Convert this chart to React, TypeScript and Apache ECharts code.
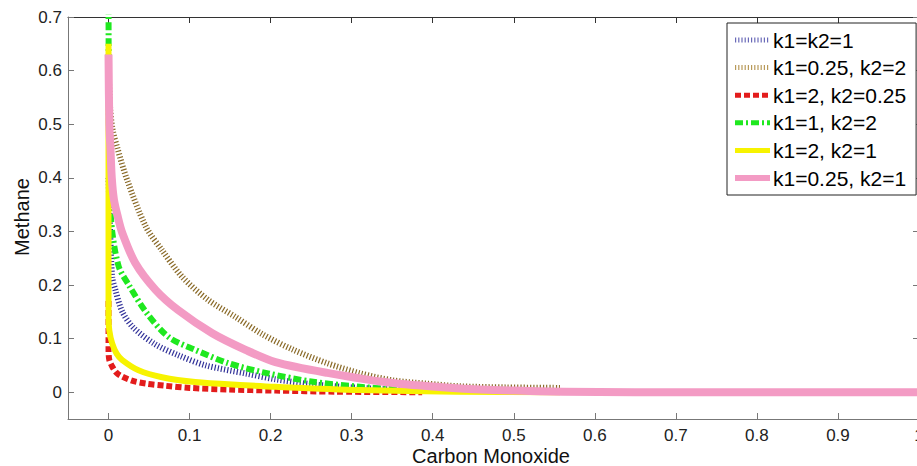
import React, { useEffect, useRef } from "react";
import * as echarts from "echarts";

const seriesNames = [
  "k1=k2=1",
  "k1=0.25, k2=2",
  "k1=2, k2=0.25",
  "k1=1, k2=2",
  "k1=2, k2=1",
  "k1=0.25, k2=1",
];

const blueX = [0, 0.002, 0.0045, 0.0086, 0.017, 0.031, 0.058, 0.086, 0.12, 0.169, 0.206, 0.25, 0.3, 0.35, 0.4];
const blueY = [0.4, 0.3, 0.215, 0.19, 0.15, 0.12, 0.089, 0.069, 0.05, 0.035, 0.024, 0.015, 0.009, 0.005, 0.003];

const brownX = [0, 0.002, 0.005, 0.011, 0.023, 0.046, 0.066, 0.091, 0.123, 0.156, 0.19, 0.228, 0.27, 0.311, 0.351, 0.393, 0.434, 0.49, 0.557];
const brownY = [0.61, 0.53, 0.49, 0.455, 0.396, 0.309, 0.265, 0.215, 0.172, 0.141, 0.108, 0.079, 0.054, 0.035, 0.022, 0.016, 0.011, 0.009, 0.008];

const redX = [0, 0, 0.001, 0.0045, 0.01, 0.017, 0.03, 0.046, 0.07, 0.1, 0.148, 0.206, 0.28, 0.387];
const redY = [0.17, 0.079, 0.06, 0.048, 0.036, 0.029, 0.021, 0.016, 0.012, 0.008, 0.005, 0.003, 0.001, 0.0];

const greenX = [0, 0.0005, 0.002, 0.0045, 0.0127, 0.025, 0.046, 0.074, 0.107, 0.148, 0.197, 0.25, 0.31, 0.36];
const greenY = [0.75, 0.5, 0.36, 0.3, 0.234, 0.2, 0.15, 0.103, 0.079, 0.054, 0.035, 0.02, 0.01, 0.005];

const yellowX = [0, 0, 0, 0.001, 0.0045, 0.01, 0.017, 0.037, 0.066, 0.107, 0.169, 0.206, 0.31, 0.43, 0.557];
const yellowY = [0.65, 0.3, 0.14, 0.115, 0.091, 0.072, 0.06, 0.041, 0.028, 0.019, 0.013, 0.01, 0.004, 0.001, 0];

const pinkX = [0, 0.001, 0.0025, 0.004, 0.0066, 0.011, 0.017, 0.033, 0.058, 0.086, 0.128, 0.169, 0.206, 0.27, 0.351, 0.434, 0.5, 0.56, 0.65, 1.0];
const pinkY = [0.63, 0.5, 0.45, 0.4, 0.36, 0.33, 0.297, 0.241, 0.191, 0.153, 0.11, 0.079, 0.056, 0.036, 0.017, 0.007, 0.003, 0.001, 0, 0];

const xTicks = [0, 0.1, 0.2, 0.3, 0.4, 0.5, 0.6, 0.7, 0.8, 0.9, 1];
const xTickLabels = ["0", "0.1", "0.2", "0.3", "0.4", "0.5", "0.6", "0.7", "0.8", "0.9", "1"];
const yTicks = [0, 0.1, 0.2, 0.3, 0.4, 0.5, 0.6, 0.7];
const yTickLabels = ["0", "0.1", "0.2", "0.3", "0.4", "0.5", "0.6", "0.7"];

const zip = (xs: number[], ys: number[]) => xs.map((x, i) => [x, ys[i]]);

const FONT = "Liberation Sans, Arial, sans-serif";

export default function App() {
  const ref = useRef<HTMLDivElement>(null);
  useEffect(() => {
    if (!ref.current) return;
    const chart = echarts.init(ref.current, undefined, { renderer: "svg" });
    const axisColor = "#777";
    const fmtX = (v: number) => {
      const i = xTicks.findIndex((t) => Math.abs(t - v) < 1e-9);
      return i >= 0 ? xTickLabels[i] : "";
    };
    const fmtY = (v: number) => {
      const i = yTicks.findIndex((t) => Math.abs(t - v) < 1e-9);
      return i >= 0 ? yTickLabels[i] : "";
    };
    const lineBase = {
      type: "line" as const,
      showSymbol: false,
      symbol: "none",
      clip: true,
      smooth: 0.3,
      xAxisIndex: 0,
      yAxisIndex: 0,
    };
    const dataSets = [
      zip(blueX, blueY),
      zip(brownX, brownY),
      zip(redX, redY),
      zip(greenX, greenY),
      zip(yellowX, yellowY),
      zip(pinkX, pinkY),
    ];
    const styles: any[] = [
      { color: "#33339a", width: 6, type: [1.2, 2] },
      { color: "#8a6a28", width: 6, type: [1.2, 2] },
      { color: "#e31c1c", width: 6, type: [6, 3] },
      { color: "#1fe81f", width: 6, type: [8, 3, 2, 3] },
      { color: "#f7f300", width: 6, type: "solid" },
      { color: "#f39bc4", width: 8, type: "solid" },
    ];
    const legendStyles: any[] = [
      { color: "#6a6ab8", width: 5, type: [1.2, 2] },
      { color: "#b89a5a", width: 5, type: [1.2, 2] },
      { color: "#e31c1c", width: 5, type: [6, 3] },
      { color: "#1fe81f", width: 5, type: [8, 3, 2, 3] },
      { color: "#f7f300", width: 5, type: "solid" },
      { color: "#f39bc4", width: 6, type: "solid" },
    ];
    chart.setOption({
      animation: false,
      backgroundColor: "#ffffff",
      textStyle: { fontFamily: FONT },
      grid: { left: 68, top: 17, right: -2, bottom: 47, containLabel: false, outerBoundsMode: "none" },
      legend: {
        orient: "vertical",
        left: 727,
        top: 23,
        data: seriesNames.map((name, i) => ({
          name,
          lineStyle: { ...legendStyles[i], cap: "butt" },
        })),
        backgroundColor: "#ffffff",
        borderColor: "#222",
        borderWidth: 1,
        borderRadius: 0,
        padding: [6.5, 10, 6.5, 5],
        itemWidth: 35,
        itemHeight: 14,
        itemGap: 6.6,
        itemStyle: { opacity: 0 },
        textStyle: { fontSize: 21, lineHeight: 21, color: "#000", fontFamily: FONT, padding: [0, 0, 0, -2] },
      },
      xAxis: [
        {
          type: "value",
          min: -0.05,
          max: 1.0,
          position: "bottom",
          axisLine: { show: true, onZero: false, lineStyle: { color: axisColor, width: 1 } },
          axisTick: { show: true, inside: true, length: 6, customValues: xTicks, lineStyle: { color: axisColor } },
          axisLabel: { show: true, customValues: xTicks, formatter: fmtX, fontSize: 17, color: "#222", margin: 8, fontFamily: FONT },
          splitLine: { show: false },
        },
        {
          type: "value",
          min: -0.05,
          max: 1.0,
          position: "top",
          axisLine: { show: true, onZero: false, lineStyle: { color: "#333", width: 1 } },
          axisTick: { show: true, inside: true, length: 6, customValues: xTicks, lineStyle: { color: "#333" } },
          axisLabel: { show: false },
          splitLine: { show: false },
        },
      ],
      yAxis: [
        {
          type: "value",
          min: -0.05,
          max: 0.7,
          position: "left",
          axisLine: { show: true, onZero: false, lineStyle: { color: axisColor, width: 1 } },
          axisTick: { show: true, inside: true, length: 6, customValues: yTicks, lineStyle: { color: axisColor } },
          axisLabel: { show: true, customValues: yTicks, formatter: fmtY, fontSize: 17, color: "#222", margin: 6, fontFamily: FONT },
          splitLine: { show: false },
        },
        {
          type: "value",
          min: -0.05,
          max: 0.7,
          position: "right",
          axisLine: { show: true, onZero: false, lineStyle: { color: axisColor, width: 1 } },
          axisTick: { show: true, inside: true, length: 6, customValues: yTicks, lineStyle: { color: axisColor } },
          axisLabel: { show: false },
          splitLine: { show: false },
        },
      ],
      graphic: [
        {
          type: "text",
          x: 22,
          y: 217,
          rotation: Math.PI / 2,
          style: { text: "Methane", fontSize: 20, fill: "#111", fontFamily: FONT, align: "center", verticalAlign: "middle" },
        },
        {
          type: "text",
          x: 491,
          y: 456,
          style: { text: "Carbon Monoxide", fontSize: 20, fill: "#111", fontFamily: FONT, align: "center", verticalAlign: "middle" },
        },
      ],
      series: seriesNames.map((name, i) => ({
        ...lineBase,
        name,
        data: dataSets[i],
        lineStyle: { ...styles[i], cap: "butt", join: "round" },
        itemStyle: { color: styles[i].color },
      })),
    });
    return () => chart.dispose();
  }, []);
  return <div ref={ref} style={{ width: 917, height: 466, position: "absolute", left: 0, top: 0 }} />;
}
